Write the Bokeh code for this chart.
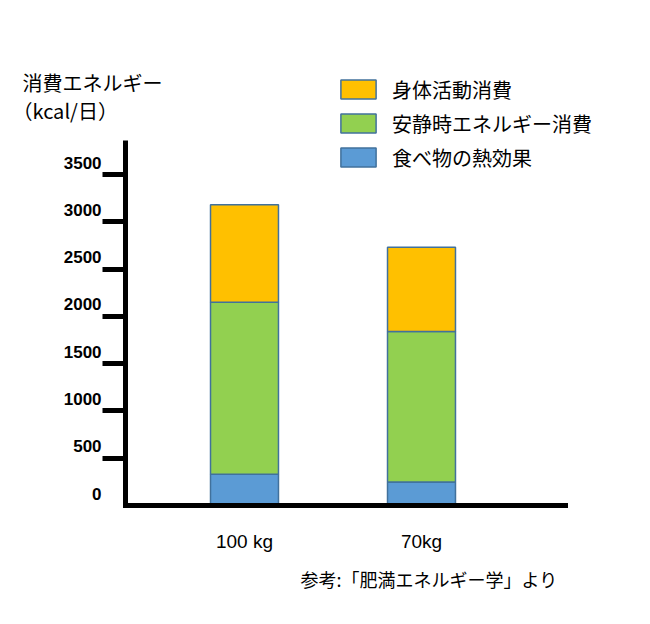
from bokeh.plotting import figure
from bokeh.models import (ColumnDataSource, Range1d, FixedTicker, Legend, LegendItem,
                          Label, LabelSet)
from bokeh.core.properties import value
from bokeh.embed import file_html
from bokeh.resources import INLINE

# ---------------- data ----------------
categories = ["100 kg", "70kg"]
thermic_effect = [330, 250]        # 食べ物の熱効果
resting = [1820, 1590]             # 安静時エネルギー消費
activity = [1030, 890]             # 身体活動消費
series_keys = ["thermic", "resting", "activity"]
series_names = ["食べ物の熱効果", "安静時エネルギー消費", "身体活動消費"]
colors = ["#5B9BD5", "#92D050", "#FFC000"]
y_tick_values = [0, 500, 1000, 1500, 2000, 2500, 3000, 3500]
y_tick_labels = ["0", "500", "1000", "1500", "2000", "2500", "3000", "3500"]
y_title = "消費エネルギー"
y_unit = "（kcal/日）"
source_note = "参考:「肥満エネルギー学」より"

# ---------------- layout (frame spans the whole canvas) ----------------
X_START, X_END = -1.3785, 2.2938
AXIS_X = -0.672          # where the vertical axis is drawn
X_AXIS_END = 1.8136
Y_START, Y_END = -1258, 5340
Y_AXIS_END = 3860
BAR_WIDTH = 0.384
CJK = "Noto Sans CJK JP"
LATIN = "Liberation Sans"

xs = list(range(len(categories)))
src = ColumnDataSource(dict(x=xs, thermic=thermic_effect, resting=resting, activity=activity))

p = figure(width=650, height=624, output_backend="svg", toolbar_location=None, title=None,
           x_range=Range1d(X_START, X_END), y_range=Range1d(Y_START, Y_END),
           min_border=0)
p.outline_line_color = None
p.xgrid.visible = False
p.ygrid.visible = False
p.background_fill_color = "white"
p.border_fill_color = "white"

renderers = p.vbar_stack(series_keys, x="x", width=BAR_WIDTH, source=src,
                         fill_color=colors, line_color="#41719C", line_width=1.5)

# y axis
ya = p.yaxis[0]
ya.fixed_location = AXIS_X
ya.bounds = (0, Y_AXIS_END)
ya.ticker = FixedTicker(ticks=y_tick_values[1:])
ya.axis_line_width = 5
ya.axis_line_color = "black"
ya.major_tick_line_width = 5
ya.major_tick_out = 23
ya.major_tick_in = 0
ya.minor_tick_line_color = None
ya.major_label_text_font_size = "0px"
ya.major_label_overrides = {v: "" for v in y_tick_values}

# x axis
xa = p.xaxis[0]
xa.fixed_location = 0
xa.bounds = (AXIS_X, X_AXIS_END)
xa.ticker = FixedTicker(ticks=xs)
xa.major_label_overrides = {i: c for i, c in zip(xs, categories)}
xa.axis_line_width = 5
xa.axis_line_cap = "square"
xa.axis_line_color = "black"
xa.major_tick_out = 0
xa.major_tick_in = 0
xa.minor_tick_line_color = None
xa.major_label_standoff = 25
xa.major_label_text_font = LATIN
xa.major_label_text_font_size = "19px"
xa.major_label_text_color = "black"

# y tick labels (sit slightly above their ticks, as in the original)
tick_src = ColumnDataSource(dict(tick=y_tick_values, label=y_tick_labels))
p.add_layout(LabelSet(x=AXIS_X, y="tick", text="label", source=tick_src,
                      x_offset=-24, y_offset=12, text_align="right", text_baseline="middle",
                      text_font=value(LATIN), text_font_size=value("17px"),
                      text_font_style="bold", text_color="black"))

# titles / notes (screen units: from the left / bottom of the canvas)
p.add_layout(Label(x=22, y=542, x_units="screen", y_units="screen", text=y_title,
                   text_baseline="middle", text_font=CJK, text_font_size="20px",
                   text_color="black"))
p.add_layout(Label(x=12, y=514, x_units="screen", y_units="screen", text=y_unit,
                   text_baseline="middle", text_font=CJK, text_font_size="20px",
                   text_color="black"))
p.add_layout(Label(x=300, y=46, x_units="screen", y_units="screen", text=source_note,
                   text_baseline="middle", text_font=CJK, text_font_size="18px",
                   text_color="black"))

# legend (top item = top of stack)
items = [LegendItem(label=series_names[i], renderers=[renderers[i]]) for i in (2, 1, 0)]
legend = Legend(items=items, location=(336, 452), orientation="vertical",
                glyph_width=44, glyph_height=24, label_standoff=12, spacing=4,
                padding=0, margin=0, border_line_color=None, background_fill_alpha=0,
                label_text_font=CJK, label_text_font_size="20px", label_height=30,
                label_text_color="black")
p.add_layout(legend)

open("out.html", "w").write(file_html(p, INLINE))
